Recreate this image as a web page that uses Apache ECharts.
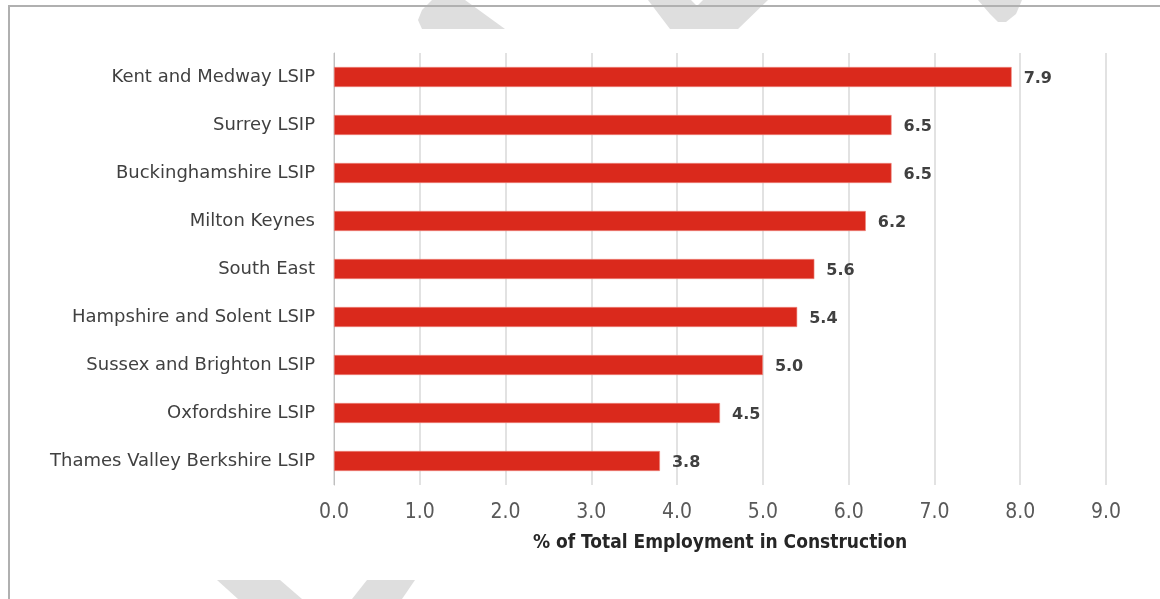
<!DOCTYPE html>
<html>
<head>
<meta charset="utf-8">
<script src="https://cdn.jsdelivr.net/npm/echarts@6/dist/echarts.min.js"></script>
<style>
  html, body { margin: 0; padding: 0; background: #ffffff; }
  #chart { width: 1160px; height: 599px; }
</style>
</head>
<body>
<div id="chart"></div>
<script>
// Share of total employment in construction, by LSIP area (%)
const areas = [
  'Kent and Medway LSIP',
  'Surrey LSIP',
  'Buckinghamshire LSIP',
  'Milton Keynes',
  'South East',
  'Hampshire and Solent LSIP',
  'Sussex and Brighton LSIP',
  'Oxfordshire LSIP',
  'Thames Valley Berkshire LSIP'
];
const constructionShare = [7.9, 6.5, 6.5, 6.2, 5.6, 5.4, 5.0, 4.5, 3.8];
const axisTitle = '% of Total Employment in Construction';
const xMin = 0, xMax = 9, xStep = 1;

const chart = echarts.init(document.getElementById('chart'), null, { renderer: 'canvas' });

// Light grey "draft" watermark fragments and the frame around the figure
const shade = { fill: '#dedede' };
const decorations = [
  { type: 'polygon', z: 0, silent: true, shape: { points: [[432,0],[465,0],[505,29],[422,29],[418,20],[422,10]] }, style: shade },
  { type: 'polygon', z: 0, silent: true, shape: { points: [[648,0],[691,0],[697,6],[703,0],[768,0],[738,29],[670,29]] }, style: shade },
  { type: 'polygon', z: 0, silent: true, shape: { points: [[978,0],[1022,0],[1016,14],[1006,22],[998,22],[990,14]] }, style: shade },
  { type: 'polygon', z: 0, silent: true, shape: { points: [[217,580],[280,580],[302,599],[238,599]] }, style: shade },
  { type: 'polygon', z: 0, silent: true, shape: { points: [[367,580],[415,580],[402,599],[352,599]] }, style: shade },
  { type: 'rect', z: 1, silent: true, shape: { x: 9, y: 6, width: 1170, height: 620 }, style: { fill: 'none', stroke: '#b0b0b0', lineWidth: 2 } }
];

chart.setOption({
  animation: false,
  backgroundColor: '#ffffff',
  graphic: decorations,
  grid: { left: 334, right: 54, top: 53, bottom: 114, containLabel: false },
  xAxis: {
    type: 'value',
    min: xMin,
    max: xMax,
    interval: xStep,
    name: axisTitle,
    nameLocation: 'middle',
    nameGap: 49,
    nameTextStyle: {
      fontFamily: "'Liberation Sans Narrow', 'DejaVu Sans Condensed', sans-serif",
      fontWeight: 'bold',
      fontSize: 19,
      color: '#262626'
    },
    axisLine: { show: false },
    axisTick: { show: false },
    axisLabel: {
      margin: 17,
      formatter: v => v.toFixed(1),
      fontFamily: "'Liberation Sans Narrow', 'DejaVu Sans Condensed', sans-serif",
      fontSize: 21,
      color: '#595959'
    },
    splitLine: { show: true, lineStyle: { color: '#d9d9d9', width: 1.5 } }
  },
  yAxis: {
    type: 'category',
    data: areas,
    inverse: true,
    axisLine: { show: true, lineStyle: { color: '#bfbfbf', width: 1 } },
    axisTick: { show: false },
    axisLabel: {
      margin: 19,
      fontFamily: "'DejaVu Sans', sans-serif",
      fontSize: 18,
      color: '#404040'
    },
    splitLine: { show: false }
  },
  series: [{
    type: 'bar',
    data: constructionShare,
    barWidth: 20,
    itemStyle: { color: '#da291c', borderColor: '#f08a80', borderWidth: 0.6 },
    label: {
      show: true,
      position: 'right',
      distance: 12,
      offset: [0, 2],
      formatter: p => p.value.toFixed(1),
      fontFamily: "'DejaVu Sans', sans-serif",
      fontWeight: 'bold',
      fontSize: 16,
      color: '#404040'
    }
  }]
});
</script>
</body>
</html>
